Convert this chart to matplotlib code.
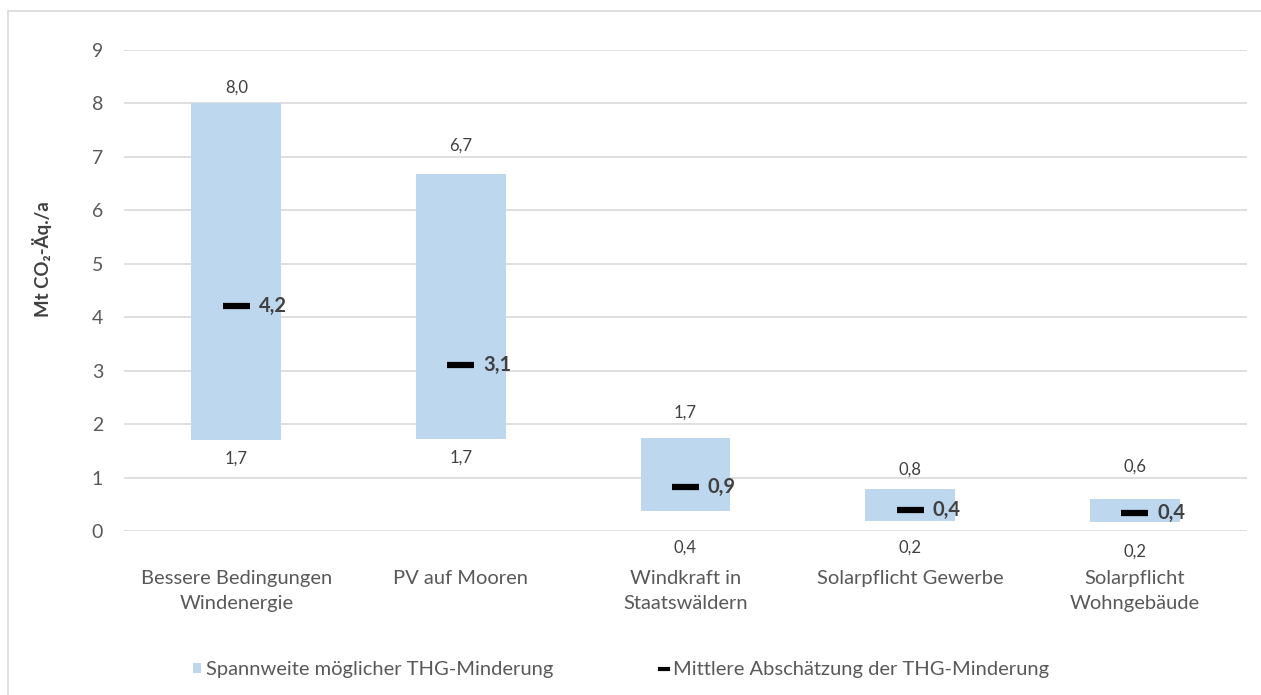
import matplotlib
matplotlib.use("Agg")
import matplotlib.pyplot as plt
from matplotlib.patches import Patch, Rectangle
from matplotlib.lines import Line2D

plt.rcParams['font.family'] = ['Lato', 'DejaVu Sans']

categories = ["Bessere Bedingungen\nWindenergie", "PV auf Mooren", "Windkraft in\nStaatswäldern",
              "Solarpflicht Gewerbe", "Solarpflicht\nWohngebäude"]
low = [1.70, 1.72, 0.37, 0.19, 0.17]
high = [8.0, 6.68, 1.74, 0.79, 0.60]
mean = [4.21, 3.11, 0.83, 0.40, 0.34]
low_labels = ["1,7", "1,7", "0,4", "0,2", "0,2"]
high_labels = ["8,0", "6,7", "1,7", "0,8", "0,6"]
mean_labels = ["4,2", "3,1", "0,9", "0,4", "0,4"]
yticks = [0, 1, 2, 3, 4, 5, 6, 7, 8, 9]

# layout (pixel offsets of value labels, as placed in the original)
top_off_px = [16, 28, 25, 19, 32]
bot_off_px = [18, 19, 36, 27, 30]

W, H = 1261, 695
fig = plt.figure(figsize=(W / 100, H / 100), dpi=100)
ax = fig.add_axes([124 / W, 1 - 531 / H, (1247 - 124) / W, (531 - 50) / H])

bar_color = "#BDD7EE"
txt = "#595959"
dark = "#404040"

x = list(range(len(categories)))
heights = [h - l for h, l in zip(high, low)]
ax.bar(x, heights, bottom=low, width=0.4, color=bar_color, zorder=2)
ax.hlines(mean, [i - 0.06 for i in x], [i + 0.06 for i in x], colors="black", linewidth=4.5, zorder=3)

pt = 72 / 100
for i in x:
    ax.annotate(high_labels[i], (i, high[i]), xytext=(0, top_off_px[i] * pt), textcoords="offset points",
                ha="center", va="center", fontsize=12, color=dark)
    ax.annotate(low_labels[i], (i, low[i]), xytext=(0, -bot_off_px[i] * pt), textcoords="offset points",
                ha="center", va="center", fontsize=12, color=dark)
    ax.annotate(mean_labels[i], (i + 0.1, mean[i]), xytext=(0, 0), textcoords="offset points",
                ha="left", va="center", fontsize=14.5, fontweight="bold", color=dark)

ax.set_xlim(-0.5, len(categories) - 0.5)
ax.set_ylim(0, 9)
ax.set_yticks(yticks)
ax.set_yticklabels([str(v) for v in yticks])
ax.set_xticks(x)
ax.set_xticklabels(categories, fontsize=14.5, color=txt, linespacing=1.55)
ax.tick_params(axis="x", length=0, pad=28)
ax.tick_params(axis="y", length=0, pad=15, labelsize=14, labelcolor=txt)
ax.grid(axis="y", color="#D9D9D9", linewidth=1.2, zorder=0)
ax.set_axisbelow(True)
for s in ax.spines.values():
    s.set_visible(False)

fig.text(42 / W, 1 - 259 / H, "Mt CO₂-Äq./a", rotation=90, ha="center", va="center",
         fontsize=13.4, fontweight="bold", color=dark)

handles = [Patch(facecolor=bar_color, edgecolor="none"),
           Line2D([0], [0], color="black", linewidth=3)]
fig.legend(handles, ["Spannweite möglicher THG-Minderung", "Mittlere Abschätzung der THG-Minderung"],
           loc="center", bbox_to_anchor=(621 / W, 1 - 670 / H), ncol=2, frameon=False,
           fontsize=14.5, labelcolor=txt, handlelength=0.4, handleheight=0.4, handletextpad=0.25,
           columnspacing=5.3)

# chart border
fig.add_artist(Rectangle((8 / W, -0.1), 1.2, 1.1 - 11 / H, transform=fig.transFigure,
                         fill=False, edgecolor="#D9D9D9", linewidth=1.2))

fig.savefig("out.png", dpi=100)
